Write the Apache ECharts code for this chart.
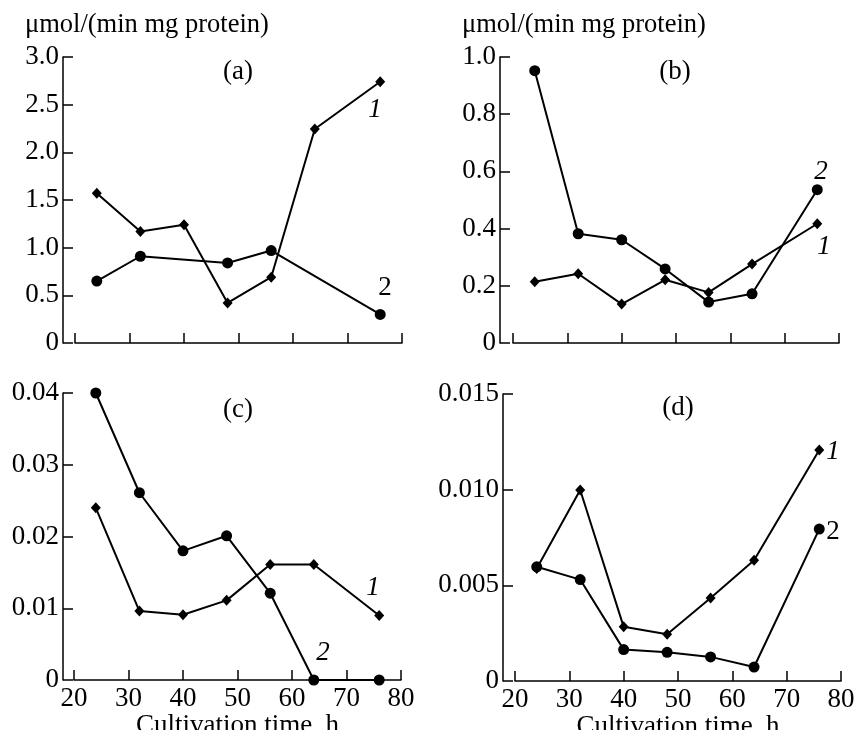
<!DOCTYPE html>
<html>
<head>
<meta charset="utf-8">
<script src="https://cdn.jsdelivr.net/npm/echarts@6/dist/echarts.min.js"></script>
<style>html,body{margin:0;padding:0;background:#fff}#c{width:856px;height:730px}</style>
</head>
<body>
<div id="c"></div>
<script>
// Cultivation time, h
const timeA1 = [24, 32, 40, 48, 56, 64, 76];
const timeA2 = [24, 32, 48, 56, 76];
const timeAll = [24, 32, 40, 48, 56, 64, 76];

// Panel (a)
const a1 = [1.57, 1.17, 1.24, 0.42, 0.69, 2.245, 2.74];
const a2 = [0.65, 0.91, 0.84, 0.97, 0.30];
// Panel (b)
const b1 = [0.214, 0.242, 0.136, 0.221, 0.177, 0.276, 0.417];
const b2 = [0.952, 0.382, 0.361, 0.259, 0.143, 0.172, 0.536];
// Panel (c)
const c1 = [0.0240, 0.0096, 0.0091, 0.0111, 0.0161, 0.0161, 0.0090];
const c2 = [0.0400, 0.0261, 0.0180, 0.0201, 0.0121, 0, 0];
// Panel (d)
const d1 = [0.00588, 0.00998, 0.00283, 0.00244, 0.00434, 0.00631, 0.01207];
const d2 = [0.00597, 0.00530, 0.00164, 0.00150, 0.00126, 0.00073, 0.00794];

const xTicks = [20, 30, 40, 50, 60, 70, 80];
const yTicksA = ['0', '0.5', '1.0', '1.5', '2.0', '2.5', '3.0'];
const yTicksB = ['0', '0.2', '0.4', '0.6', '0.8', '1.0'];
const yTicksC = ['0', '0.01', '0.02', '0.03', '0.04'];
const yTicksD = ['0', '0.005', '0.010', '0.015'];
const yUnit = 'μmol/(min mg protein)';
const xName = 'Cultivation time, h';

const FONT = '"Liberation Serif", "DejaVu Serif", serif';
const FS = 27;

function zip(xs, ys) { return xs.map((x, i) => [x, ys[i]]); }

const grids = [
  {left: 75, top: 57, right: 856 - 402, bottom: 730 - 343},
  {left: 513, top: 57, right: 856 - 839, bottom: 730 - 343},
  {left: 74, top: 393, right: 856 - 401, bottom: 730 - 680},
  {left: 515, top: 394, right: 856 - 841, bottom: 730 - 681}
].map(g => Object.assign(g, {outerBoundsMode: 'none', containLabel: false}));
const yOffsets = [12, 13, 11, 12];
const yRanges = [[0, 3, 0.5, yTicksA], [0, 1, 0.2, yTicksB], [0, 0.04, 0.01, yTicksC], [0, 0.015, 0.005, yTicksD]];

const xAxes = grids.map((g, i) => ({
  gridIndex: i, type: 'value', min: 20, max: 80, interval: 10,
  name: i >= 2 ? xName : '', nameLocation: 'middle', nameGap: 23,
  nameTextStyle: {fontFamily: FONT, fontSize: FS, color: '#000'},
  axisLine: {show: true, lineStyle: {color: '#000', width: 1.5}},
  axisTick: {show: true, inside: true, length: 10, lineStyle: {color: '#000', width: 1.5}},
  axisLabel: {show: i >= 2, margin: 5, fontFamily: FONT, fontSize: FS, color: '#000',
    formatter: v => xTicks.includes(v) ? String(v) : ''},
  splitLine: {show: false}
}));

const yAxes = grids.map((g, i) => {
  const [mn, mx, iv, labels] = yRanges[i];
  return {
    gridIndex: i, type: 'value', min: mn, max: mx, interval: iv, offset: yOffsets[i],
    axisLine: {show: true, lineStyle: {color: '#000', width: 1.5}},
    axisTick: {show: true, inside: true, length: 10, lineStyle: {color: '#000', width: 1.5}},
    axisLabel: {margin: 4, fontFamily: FONT, fontSize: FS, color: '#000',
      formatter: (v) => { const k = Math.round((v - mn) / iv); return labels[k] !== undefined ? labels[k] : ''; }},
    splitLine: {show: false}
  };
});

function line(idx, data, sym) {
  return {
    type: 'line', xAxisIndex: idx, yAxisIndex: idx, data: data,
    symbol: sym, symbolSize: sym === 'circle' ? 11 : [10, 11],
    lineStyle: {color: '#000', width: 2}, itemStyle: {color: '#000'},
    animation: false, z: sym === 'circle' ? 3 : 2
  };
}

const series = [
  line(0, zip(timeA1, a1), 'diamond'), line(0, zip(timeA2, a2), 'circle'),
  line(1, zip(timeAll, b1), 'diamond'), line(1, zip(timeAll, b2), 'circle'),
  line(2, zip(timeAll, c1), 'diamond'), line(2, zip(timeAll, c2), 'circle'),
  line(3, zip(timeAll, d1), 'diamond'), line(3, zip(timeAll, d2), 'circle')
];

function txt(x, y, s, italic, size) {
  return {type: 'text', x: x, y: y, style: {text: s, fill: '#000', font: (italic ? 'italic ' : '') + (size || FS) + 'px ' + FONT, textAlign: 'center', textVerticalAlign: 'middle'}};
}

const graphics = [
  {type: 'text', x: 25, y: 25, style: {text: yUnit, fill: '#000', font: '26.5px ' + FONT, textAlign: 'left', textVerticalAlign: 'middle'}},
  {type: 'text', x: 462, y: 25, style: {text: yUnit, fill: '#000', font: '26.5px ' + FONT, textAlign: 'left', textVerticalAlign: 'middle'}},
  txt(238, 72, '(a)'), txt(375, 110, '1', true), txt(385, 288, '2', false),
  txt(675, 72, '(b)'), txt(821, 172, '2', true), txt(824, 247, '1', true),
  txt(238, 410, '(c)'), txt(373, 588, '1', true), txt(323, 653, '2', true),
  txt(678, 408, '(d)'), txt(833, 452, '1', true), txt(833, 532, '2', false)
];

const chart = echarts.init(document.getElementById('c'), null, {renderer: 'canvas'});
chart.setOption({
  backgroundColor: '#fff',
  animation: false,
  grid: grids,
  xAxis: xAxes,
  yAxis: yAxes,
  series: series,
  graphic: graphics
});
</script>
</body>
</html>
